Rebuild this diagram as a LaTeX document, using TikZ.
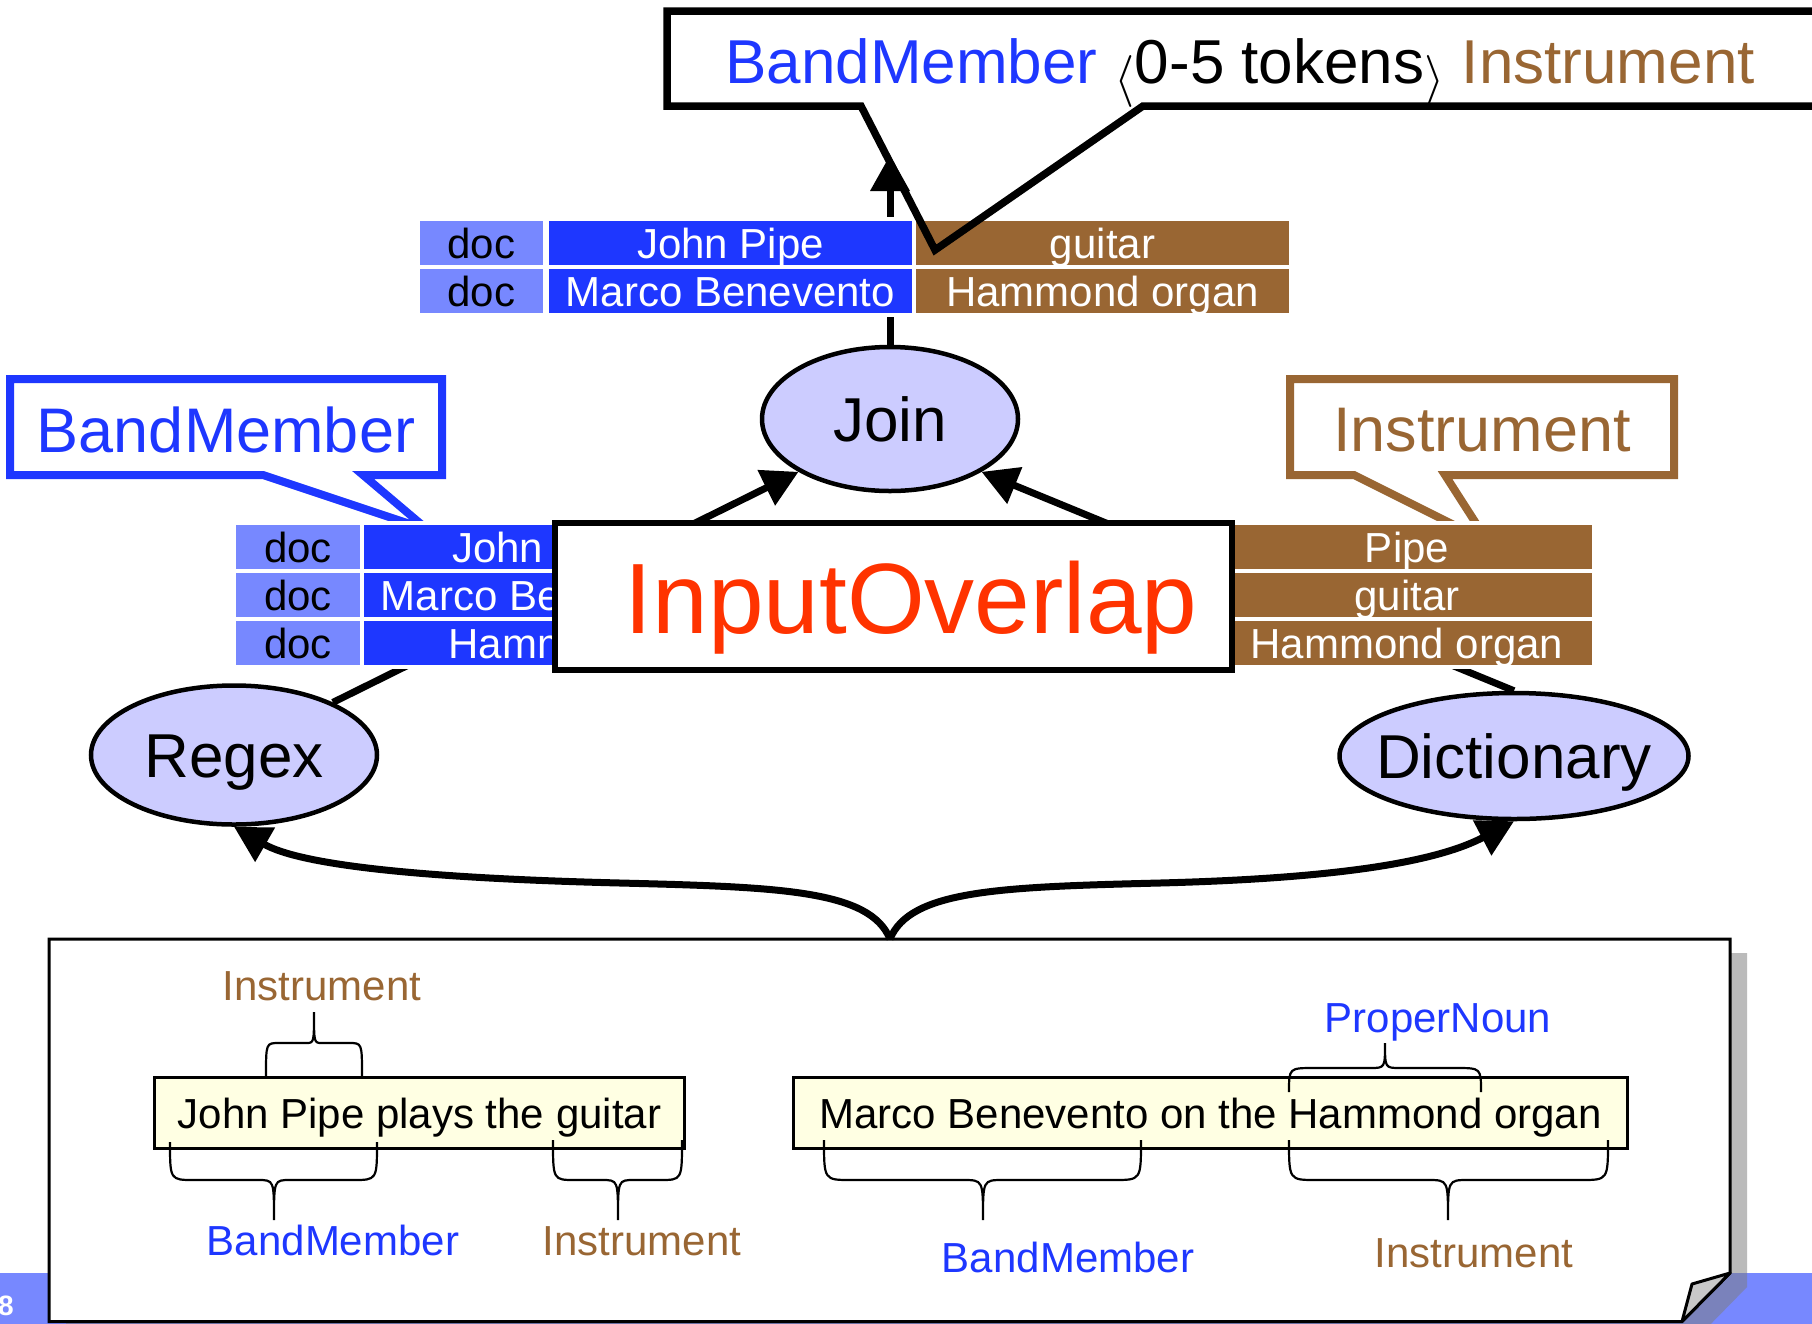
\documentclass[tikz,border=0pt]{standalone}
\usepackage{fontspec}
\usepackage{graphicx}
\setmainfont{Liberation Sans}
\usetikzlibrary{shapes.geometric,arrows.meta}
\definecolor{bmblue}{HTML}{1E37FF}
\definecolor{docblue}{HTML}{7788FF}
\definecolor{inbrown}{HTML}{996633}
\definecolor{iored}{HTML}{FF3300}
\definecolor{opfill}{HTML}{CCCCFF}
\definecolor{sentfill}{HTML}{FFFFE3}
\definecolor{foldgray}{HTML}{C8C8C8}
\newcommand{\fsz}[1]{\fontsize{#1}{#1}\selectfont}
\newcommand{\bigang}[1]{\raisebox{-11pt}{\resizebox*{!}{52pt}{$#1$}}}
\newcommand{\curlyb}[8]{\draw[brc] (#1,#4) .. controls (#1,#5) .. ({#1+#7},#5) -- ({#3-#8},#5) .. controls (#3,#5) .. (#3,#6) .. controls (#3,#5) .. ({#3+#8},#5) -- ({#2-#7},#5) .. controls (#2,#5) .. (#2,#4);}
\begin{document}
\begin{tikzpicture}[x=1pt,y=-1pt,
  op/.style={ellipse, draw=black, line width=4.5pt, fill=opfill, inner sep=0pt, font=\fsz{62}, text height=44pt, text depth=0pt},
  arr/.style={line width=7pt, -{Triangle[length=36pt,width=38pt]}},
  cell/.style={rectangle, draw=white, line width=4pt, inner sep=0pt, minimum height=48pt, font=\fsz{42}, text height=31pt, text depth=1pt},
  doccell/.style={cell, fill=docblue, text=black, minimum width=127pt},
  bmcell/.style={cell, fill=bmblue, text=white, minimum width=367pt},
  incell/.style={cell, fill=inbrown, text=white},
  sent/.style={rectangle, draw=black, line width=3pt, fill=sentfill, inner sep=0pt, minimum height=71pt, font=\fsz{42}, text height=31pt, text depth=1pt},
  lbl/.style={anchor=base, inner sep=0pt, font=\fsz{42}},
  ttl/.style={anchor=base, inner sep=0pt, font=\fsz{63}},
  brc/.style={line width=2.2pt},
]
\useasboundingbox (0,0) rectangle (1812,1323);
% footer band
\fill[docblue] (0,1273) rectangle (1812,1330);
\node[anchor=base east, text=white, font=\fsz{28}\bfseries, inner sep=0pt] (slideno) at (14,1315) {8};
% document box
\fill[black!51, opacity=0.52] (66,953) -- (1747,953) -- (1747,1287) -- (1699,1336) -- (66,1336) -- cycle;
\draw[line width=3pt, fill=white] (49,939) -- (1730,939) -- (1730,1273) -- (1682,1321.5) -- (49,1321.5) -- cycle;
\draw[line width=3pt, fill=foldgray, line join=round] (1730,1273) -- (1692,1284) -- (1682,1321.5) -- cycle;
\coordinate (doctop) at (890,939);
% sentences
\node[sent, minimum width=530pt] (s1) at (419.5,1113) {John Pipe plays the guitar};
\node[sent, minimum width=834pt] (s2) at (1210.5,1113) {Marco Benevento on the Hammond organ};
% braces
\curlyb{170}{377}{274}{1142}{1180}{1220}{24}{16}
\curlyb{553}{682}{618}{1140}{1180}{1220}{22}{16}
\curlyb{266}{362}{314}{1076}{1043}{1012}{13}{8}
\curlyb{824}{1141}{983}{1140}{1180}{1220}{27}{20}
\curlyb{1289}{1608}{1448}{1140}{1180}{1220}{27}{20}
\curlyb{1289}{1481}{1385}{1092}{1068}{1043}{25}{15}
% labels
\node[lbl, text=inbrown] (l1) at (322,1000) {Instrument};
\node[lbl, text=bmblue] (l2) at (333,1255) {BandMember};
\node[lbl, text=inbrown] (l3) at (642,1255) {Instrument};
\node[lbl, text=bmblue] (l4) at (1068,1272) {BandMember};
\node[lbl, text=inbrown] (l5) at (1474,1267) {Instrument};
\node[lbl, text=bmblue] (l6) at (1438,1032) {ProperNoun};
% operators
\node[op, minimum width=256pt, minimum height=144pt] (join) at (890,419) {\makebox[0pt]{Join}};
\node[op, minimum width=286pt, minimum height=139pt] (regex) at (234,755) {\makebox[0pt]{Regex}};
\node[op, minimum width=349pt, minimum height=126pt] (dict) at (1514,756) {\makebox[0pt]{Dictionary}};
% arrows
\draw[arr] (doctop) .. controls (870,890) and (780,887) .. (620,883) .. controls (420,878) and (300,865) .. (regex.south);
\draw[arr] (doctop) .. controls (910,890) and (1000,887) .. (1160,883) .. controls (1350,878) and (1440,860) .. (dict.south);
\draw[arr] (regex.28) -- (join.210);
\draw[arr] (dict.north) -- (join.330);
\coordinate (toptip) at (890,155);
\draw[arr] (join.north) -- (toptip);
% side callouts
\draw[bmblue, line width=8pt, fill=white] (10,379) -- (442,379) -- (442,475) -- (363,475) -- (428,530) -- (263,475) -- (10,475) -- cycle;
\node[ttl, text=bmblue] (bmtitle) at (226,452) {BandMember};
\draw[inbrown, line width=8pt, fill=white] (1290,379) -- (1674,379) -- (1674,475) -- (1445,475) -- (1488,542) -- (1354,475) -- (1290,475) -- cycle;
\node[ttl, text=inbrown] (intitle) at (1482,451) {Instrument};
% top table
\node[doccell] (t1d) at (481.5,243) {doc};
\node[bmcell] (t1b) at (730.5,243) {John Pipe};
\node[incell, minimum width=377pt] (t1i) at (1102.5,243) {guitar};
\node[doccell] (t2d) at (481.5,291) {doc};
\node[bmcell] (t2b) at (730.5,291) {Marco Benevento};
\node[incell, minimum width=377pt] (t2i) at (1102.5,291) {Hammond organ};
% left table (its right part lies under the InputOverlap box)
\begin{scope}
\clip (0,500) rectangle (557,700);
\node[doccell, minimum width=128pt] (l1d) at (298,547) {doc};
\node[bmcell] (l1b) at (545.5,547) {John Pipe};
\node[doccell, minimum width=128pt] (l2d) at (298,595) {doc};
\node[bmcell] (l2b) at (545.5,595) {Marco Benevento};
\node[doccell, minimum width=128pt] (l3d) at (298,643) {doc};
\node[bmcell] (l3b) at (545.5,643) {Hammond};
\end{scope}
% right table
\node[incell, minimum width=374pt] (r1) at (1407,547) {Pipe};
\node[incell, minimum width=374pt] (r2) at (1407,595) {guitar};
\node[incell, minimum width=374pt] (r3) at (1407,643) {Hammond organ};
% InputOverlap
\node[draw=black, line width=6pt, fill=white, minimum width=677pt, minimum height=147pt, inner sep=0pt] (iobox) at (893.5,596.5) {};
\node[anchor=base, text=iored, font=\fsz{100}, inner sep=0pt] (iotext) at (911,633) {InputOverlap};
% top callout
\draw[line width=7.5pt] (667,11) -- (1840,11) -- (1840,106) -- (1143,106) -- (935,250) -- (861,106) -- (667,106) -- cycle;
\node[anchor=base, font=\fsz{62}, inner sep=0pt] (toptitle) at (1240,83) {\textcolor{bmblue}{BandMember} \bigang{\langle}0-5 tokens\bigang{\rangle} \textcolor{inbrown}{Instrument}};
\end{tikzpicture}
\end{document}
